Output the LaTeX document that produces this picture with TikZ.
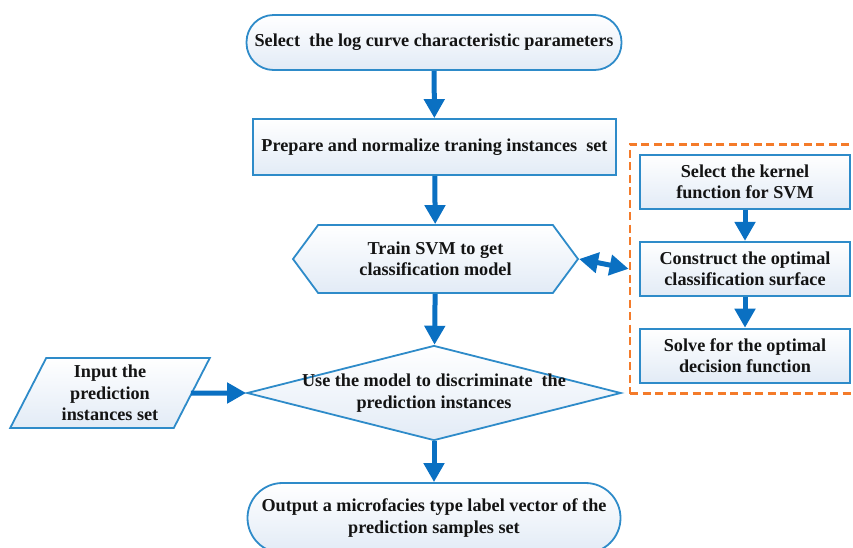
\documentclass[tikz,border=0pt]{standalone}
\usepackage{fontspec}
\setmainfont{Liberation Serif}
\usetikzlibrary{shapes.geometric,shapes.symbols,arrows.meta,positioning,fit}
\definecolor{linecol}{HTML}{2E8BC9}
\definecolor{arrowcol}{HTML}{0A70C2}
\definecolor{fillcol}{HTML}{E2EBF6}
\definecolor{dashcol}{HTML}{F47B2A}
\definecolor{textcol}{HTML}{141414}

\begin{document}
\begin{tikzpicture}[x=1pt,y=-1pt,
	every node/.style={font=\bfseries\fontsize{18.2}{21.5}\selectfont,text=textcol,align=center},
	boxbase/.style={draw=linecol,line width=1.8pt,top color=white,bottom color=fillcol},
	terminal/.style={boxbase,rounded corners=27pt,minimum width=375pt,minimum height=55pt},
	process/.style={boxbase,minimum width=363pt,minimum height=56pt},
	hexbox/.style={boxbase,signal,signal to=west and east,signal pointer angle=107,minimum width=285pt,minimum height=68pt},
	decide/.style={boxbase,diamond,minimum width=374pt,minimum height=95pt,inner sep=0pt},
	inputbox/.style={boxbase,trapezium,trapezium left angle=65,trapezium right angle=115,trapezium stretches=true,minimum width=200pt,minimum height=70pt},
	subbox/.style={boxbase,minimum width=210pt,minimum height=54pt},
	flow/.style={draw=arrowcol,line width=5pt,-{Triangle[width=20pt,length=19pt]}},
	twoway/.style={draw=arrowcol,line width=5pt,{Triangle[width=20pt,length=19pt]}-{Triangle[width=20pt,length=19pt]}},
	groupbox/.style={draw=dashcol,line width=2.8pt,dash pattern=on 8pt off 4.5pt,inner sep=10pt},
]
\clip (0,0) rectangle (853,547);

% main column
\node[terminal] (start) at (434,42.5) {Select~ the log curve characteristic parameters};
\node[process] (prep) at (434.5,147) {Prepare and normalize traning instances~ set};
\node[hexbox] (train) at (435.5,259) {Train SVM to get\\classification model};
\node[decide,label={center:Use the model to discriminate~ the\\prediction instances}] (use) at (434,393) {};
\node[terminal,minimum width=373pt,minimum height=70pt,rounded corners=35pt] (output) at (434,518) {Output a microfacies type label vector of the\\prediction samples set};
\node[inputbox] (input) at (110,393) {Input the\\prediction\\instances set};

% SVM steps
\node[subbox] (kernel) at (745,182) {Select the kernel\\function for SVM};
\node[subbox,below=31pt of kernel] (surface) {Construct the optimal\\classification surface};
\node[subbox,below=31pt of surface] (decision) {Solve for the optimal\\decision function};
\node[groupbox,fit=(kernel)(decision),minimum width=260pt,xshift=15pt] (svmgroup) {};

% connectors
\draw[flow] (start) -- (prep);
\draw[flow] (prep) -- (train);
\draw[flow] (train) -- (use);
\draw[flow] (use) -- (output);
\draw[flow] (input.east) ++(-2,0) -- (use.west);
\draw[flow] (kernel) -- (surface);
\draw[flow] (surface) -- (decision);
\draw[twoway] (train.east) -- (svmgroup.west);
\end{tikzpicture}
\end{document}
